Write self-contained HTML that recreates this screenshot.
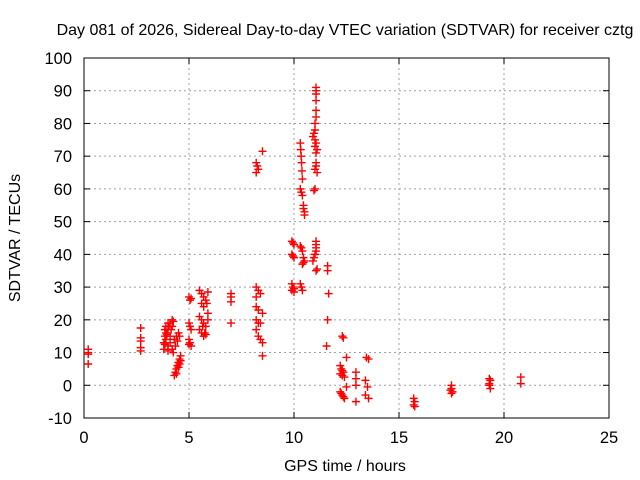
<!DOCTYPE html>
<html><head><meta charset="utf-8"><style>
body{margin:0;background:#fff;}
svg{display:block;font-family:"Liberation Sans",sans-serif;}
</style></head><body>
<svg id="chart" width="640" height="480">
<text x="345" y="35" text-anchor="middle" font-size="16">Day 081 of 2026, Sidereal Day-to-day VTEC variation (SDTVAR) for receiver cztg</text>
<text x="345" y="471" text-anchor="middle" font-size="16">GPS time / hours</text>
<text transform="translate(20,238) rotate(-90)" text-anchor="middle" font-size="16">SDTVAR / TECUs</text>
<g id="grid"></g><g id="axes"></g><g id="marks"></g>
</svg>
<script>
const xTicks=[0,5,10,15,20,25];
const yTicks=[-10,0,10,20,30,40,50,60,70,80,90,100];
const hours=[0.2,0.2,0.2,0.2,
2.7,2.7,2.7,2.7,2.7,
3.8,3.85,3.9,3.95,4.0,4.05,4.1,4.2,3.8,3.9,4.0,4.1,4.15,4.2,4.25,3.85,3.9,4.0,3.85,4.3,4.4,4.5,4.35,4.45,4.55,4.2,4.25,4.1,4.0,
4.3,4.35,4.4,4.45,4.5,4.55,4.6,4.4,4.5,4.55,4.6,
5.0,5.05,5.1,5.0,5.05,5.1,5.0,5.05,5.1,5.0,
5.5,5.6,5.7,5.8,5.6,5.7,5.5,5.6,5.7,5.8,5.5,5.6,5.7,5.8,5.9,5.85,5.9,5.9,5.65,5.75,
7.0,7.0,7.0,7.0,
8.2,8.25,8.3,8.2,8.5,8.2,8.3,8.2,8.4,8.2,8.3,8.5,8.2,8.3,8.4,8.2,8.3,8.4,8.5,8.5,
9.9,9.95,10.0,9.9,9.95,10.0,9.9,9.95,10.0,9.9,10.0,
10.3,10.32,10.34,10.36,10.38,10.4,10.3,10.35,10.4,10.45,10.45,10.5,10.5,
10.3,10.35,10.4,10.45,10.5,10.45,10.4,10.3,10.35,10.4,
11.05,11.05,11.05,11.05,11.05,11.05,11.0,11.0,10.95,10.9,11.0,11.05,11.0,11.1,11.05,11.05,11.05,11.0,11.1,11.0,10.95,
11.05,11.05,11.05,11.05,11.0,10.95,10.9,11.05,11.1,
11.6,11.6,11.65,11.6,11.55,
12.3,12.35,12.2,12.25,12.3,12.35,12.2,12.3,12.4,12.2,12.25,12.3,12.35,12.4,12.5,12.5,
12.95,12.95,12.95,12.95,
13.45,13.55,13.4,13.5,13.4,13.55,
15.7,15.75,15.7,15.75,
17.5,17.5,17.45,17.55,17.5,
19.3,19.35,19.3,19.3,19.35,
20.8,20.8];
const sdtvar=[11,10,9.5,6.5,
17.5,14.5,13.5,11.5,10.5,
11,12.5,14,15.5,17,18,19,20,13,16,12,15,17,18,19.5,17,18,19,15,14,15,16,12,13.5,15,11,10,13,10.5,
3,4,5,6,7,8,9,3.5,5.5,6.5,7.5,
27,26,26.5,19,18,17,14,13,12,12.5,
29,28,27,26,25,24,21,20,19,18,17,16,15,15.5,22,25,20,28.5,18,16,
28,27,25.5,19,
68,67,66,65,71.5,30,29,27,28,24,23,22,20,19,19,17,15,14,13,9,
44,43.5,43,40,39.5,39,31,30,29.5,29,28.5,
74,72,70,68,65.5,63,60,59,58,55,54,53,52,
42.5,42,41,39,38,37.5,37,31,30,29,
91,90,89,87,84,82,80,78,77,76,75,74,73,72,71,68,67,66,65,60,59.5,
44,43,42,41,40,39,38,35,35.5,
36.5,35,28,20,12,
15,14.5,6,5,4.5,4,3.5,3,2.5,-2,-2.5,-3,-3.5,-4,8.5,-0.5,
4,2,0,-5,
8.5,8,1.5,-0.5,-3,-4,
-4,-5,-6,-6.5,
0,-1,-1.5,-2,-2.5,
2,1.5,0.5,0,-1,
2.5,0.5];
const L=84,R=609,T=58,B=418;
const xs=v=>L+(v-0)/25*(R-L);
const ys=v=>B-(v+10)/110*(B-T);
const NS="http://www.w3.org/2000/svg";
function mk(tag,attrs,parent){const e=document.createElementNS(NS,tag);for(const k in attrs)e.setAttribute(k,attrs[k]);parent.appendChild(e);return e;}
const grid=document.getElementById('grid'),axes=document.getElementById('axes'),marks=document.getElementById('marks');
xTicks.forEach(t=>{
  const x=xs(t);
  if(t>0&&t<25){const g=mk('line',{x1:x,x2:x,y1:T,y2:B,stroke:'#a0a0a0','stroke-dasharray':'2,3'},grid);
  
  }
  mk('line',{x1:x,x2:x,y1:B,y2:B-6,stroke:'#000'},axes);
  mk('line',{x1:x,x2:x,y1:T,y2:T+6,stroke:'#000'},axes);
  const tx=mk('text',{x:x,y:B+25,'text-anchor':'middle','font-size':16.5},axes);
  tx.textContent=t;
  
  
});
yTicks.forEach(t=>{
  const y=ys(t);
  if(t>-10&&t<100){const g=mk('line',{x1:L,x2:R,y1:y,y2:y,stroke:'#a0a0a0','stroke-dasharray':'2,3'},grid);
  
  }
  mk('line',{x1:L,x2:L+6,y1:y,y2:y,stroke:'#000'},axes);
  mk('line',{x1:R,x2:R-6,y1:y,y2:y,stroke:'#000'},axes);
  const tx=mk('text',{x:L-12,y:y+6,'text-anchor':'end','font-size':16.5},axes);
  tx.textContent=t;
  
  
});
const fr=mk('rect',{x:L,y:T,width:R-L,height:B-T,fill:'none',stroke:'#000'},axes);


hours.forEach((h,i)=>{
  const x=xs(h),y=ys(sdtvar[i]);
  const p=mk('path',{d:`M${x-4},${y}H${x+4}M${x},${y-4}V${y+4}`,stroke:'#ff0000','stroke-width':1.4,fill:'none'},marks);
  
  
});
</script>
</body></html>
